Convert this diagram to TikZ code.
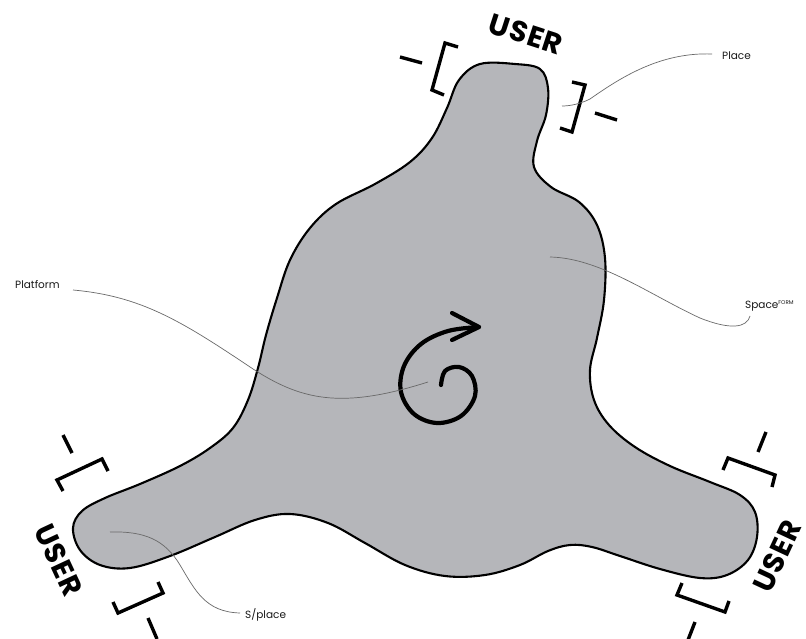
\documentclass[tikz,border=0pt]{standalone}
\usepackage{fontspec}
\setmainfont{Poppins}
\usetikzlibrary{calc}
\definecolor{blobfill}{RGB}{181,182,186}
\definecolor{leadgray}{RGB}{105,105,105}
\begin{document}
\begin{tikzpicture}[x=1pt,y=-1pt,
  blob/.style={line width=2.1pt, fill=blobfill, draw=black, line join=round},
  brk/.style={line width=3.4pt, line cap=butt, line join=miter, draw=black},
  dashmark/.style={line width=3.4pt, line cap=butt, draw=black},
  spiral/.style={line width=4.2pt, line cap=round, line join=round, draw=black},
  leaderline/.style={line width=0.7pt, draw=leadgray},
  lbl/.style={font=\fontsize{10.5}{12}\selectfont, text=black!90, inner sep=0pt},
  usertxt/.style={font=\fontsize{29}{29}\selectfont\bfseries\addfontfeature{LetterSpace=3}, inner sep=0pt}]
\useasboundingbox (0,0) rectangle (806,639);
\fill[white] (0,0) rectangle (806,639);

% blob
\draw[blob] plot[smooth cycle, tension=0.6] coordinates {
 (480,64) (515,64) (540,69) (548,88) (546,115) (537,141) (534,167) (551,187)
 (579,202) (597,225) (605,258) (604,300) (597,338) (590,370) (594,400) (609,425)
 (635,447) (670,466) (710,482) (740,495) (755,512) (757,537) (748,560) (727,575)
 (700,578) (660,569) (620,556) (592,547) (570,545) (548,551) (520,565) (485,575)
 (445,576) (405,565) (365,543) (328,523) (290,514) (255,520) (215,537) (170,556)
 (130,568) (100,565) (80,550) (73,528) (82,511) (105,498) (140,484) (180,466)
 (210,448) (233,428) (248,400) (258,368) (266,335) (277,298) (290,260) (310,228)
 (336,204) (375,184) (410,162) (432,138) (447,108) (459,80)};

% spiral
\draw[spiral] plot[smooth, tension=0.6] coordinates {(441,385) (445,371) (459,367)
 (472,376) (475,396) (461,416) (437,423) (414,414) (401,392) (404,366) (421,344)
 (448,331) (479,327)};
\coordinate (tipA) at (452,313);
\coordinate (tip) at (479,327);
\coordinate (tipB) at (452,340);
\draw[spiral] (tipA) -- (tip) -- (tipB);

% top user
\node[usertxt, rotate=-18] (utop) at (526,34) {USER};
\draw[dashmark] (400,57) -- (422,63);
\draw[brk] (458,47) -- (445,43) -- (432,90) -- (444,95);
\draw[brk] (572,82) -- (585,85) -- (572,132) -- (560,128);
\draw[dashmark] (595,113) -- (617,120);

% bottom-left user
\node[usertxt, rotate=-65] (uleft) at (59,560) {USER};
\draw[dashmark] (63,435) -- (72,453);
\draw[brk] (108,471) -- (102,459) -- (57,480) -- (63,491);
\draw[brk] (158,582) -- (163,593) -- (118,613) -- (113,602);
\draw[dashmark] (148,618) -- (157,639);

% bottom-right user
\node[usertxt, rotate=65] (uright) at (777,556) {USER};
\draw[dashmark] (766,432) -- (758,452);
\draw[brk] (723,470) -- (728,458) -- (775,475) -- (772,487);
\draw[brk] (682,583) -- (677,595) -- (725,612) -- (729,601);
\draw[dashmark] (695,622) -- (688,640);

% labels and leaders
\node[lbl, anchor=west] (place) at (722,56) {Place};
\coordinate (placeA) at (712,54);
\coordinate (placeEnd) at (562,106);
\draw[leaderline] (placeA) .. controls (660,52) and (620,78) .. (590,99)
  .. controls (580,104) and (570,106) .. (placeEnd);

\node[lbl, anchor=west] (platform) at (15,285) {Platform};
\coordinate (platA) at (73,290);
\coordinate (platEnd) at (428,382);
\draw[leaderline] (platA) .. controls (140,296) and (180,320) .. (250,367)
  .. controls (300,400) and (340,410) .. (platEnd);

\node[lbl, anchor=west] (space) at (745,306) {Space\textsuperscript{\fontsize{5.5}{6}\selectfont FORM}};
\coordinate (spA) at (750,316);
\coordinate (spEnd) at (550,257);
\draw[leaderline] (spA) .. controls (747,328) and (730,330) .. (700,318)
  .. controls (650,295) and (600,258) .. (spEnd);

\node[lbl, anchor=west] (splace) at (245,615) {S/place};
\coordinate (slA) at (240,613);
\coordinate (slEnd) at (110,532);
\draw[leaderline] (slA) .. controls (205,612) and (195,590) .. (180,565)
  .. controls (165,540) and (145,531) .. (slEnd);
\end{tikzpicture}
\end{document}
